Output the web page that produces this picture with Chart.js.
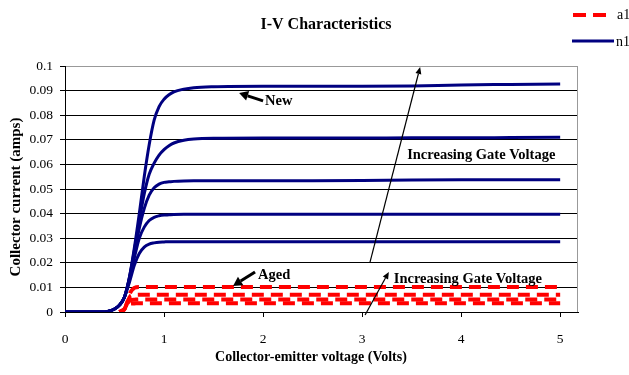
<!DOCTYPE html>
<html>
<head>
<meta charset="utf-8">
<title>I-V Characteristics</title>
<script src="https://cdn.jsdelivr.net/npm/chart.js@4/dist/chart.umd.min.js"></script>
<style>
  html, body { margin: 0; padding: 0; background: #fff; }
  #wrap { width: 629px; height: 375px; }
</style>
</head>
<body>
<div id="wrap"><canvas id="chart" width="629" height="375"></canvas></div>
<script>
/* I-V Characteristics — new (n1) vs aged (a1) device */

// voltage samples (Volts)
const vNew = [0, 0.4, 0.45, 0.5, 0.55, 0.6, 0.65, 0.7, 0.75, 0.8, 0.85, 0.9, 0.95, 1.0, 1.05, 1.1, 1.2, 1.3, 1.5, 2, 2.5, 3, 3.5, 4, 4.5, 5];
const vAged = [0.55, 0.6, 0.63, 0.66, 0.7, 0.75, 1, 2, 3, 4, 5];

// collector current (amps), new device, one array per gate voltage
const new1 = [0, 0, 0.0004, 0.0012, 0.0028, 0.006, 0.014, 0.026, 0.040, 0.055, 0.068, 0.078, 0.0835, 0.0865, 0.0883, 0.0895, 0.0906, 0.0912, 0.0916, 0.0918, 0.0918, 0.0918, 0.0919, 0.0923, 0.0925, 0.0927];
const new2 = [0, 0, 0.0004, 0.0012, 0.0028, 0.006, 0.014, 0.025, 0.037, 0.048, 0.056, 0.0605, 0.0638, 0.066, 0.0676, 0.0687, 0.0698, 0.0703, 0.0706, 0.0707, 0.0707, 0.0707, 0.0708, 0.0708, 0.0709, 0.071];
const new3 = [0, 0, 0.0004, 0.0012, 0.0028, 0.006, 0.0135, 0.024, 0.034, 0.042, 0.0475, 0.0505, 0.052, 0.0527, 0.0529, 0.0531, 0.0533, 0.0534, 0.0534, 0.0534, 0.0534, 0.0535, 0.0537, 0.0538, 0.0538, 0.0538];
const new4 = [0, 0, 0.0004, 0.0012, 0.0028, 0.006, 0.0132, 0.022, 0.030, 0.0345, 0.0372, 0.0385, 0.0391, 0.0394, 0.0395, 0.0396, 0.0397, 0.0397, 0.0397, 0.0397, 0.0397, 0.0397, 0.0397, 0.0397, 0.0397, 0.0397];
const new5 = [0, 0, 0.0004, 0.0012, 0.0028, 0.006, 0.012, 0.019, 0.0238, 0.0264, 0.0276, 0.0281, 0.0284, 0.0285, 0.0286, 0.0286, 0.0286, 0.0286, 0.0286, 0.0286, 0.0286, 0.0286, 0.0286, 0.0286, 0.0286, 0.0286];

// collector current (amps), aged device
const aged1 = [0, 0.0012, 0.004, 0.008, 0.0098, 0.0102, 0.0102, 0.0102, 0.0102, 0.0102, 0.0102];
const aged2 = [0, 0.0012, 0.004, 0.0065, 0.0069, 0.007, 0.007, 0.007, 0.007, 0.007, 0.007];
const aged3 = [0, 0.0012, 0.0035, 0.0048, 0.005, 0.0051, 0.0051, 0.0051, 0.0051, 0.0051, 0.0051];
const aged4 = [0, 0.0012, 0.003, 0.0034, 0.0035, 0.0036, 0.0036, 0.0036, 0.0036, 0.0036, 0.0036];

// tick labels
const xTicks = [0, 1, 2, 3, 4, 5];
const yTicks = [0, 0.01, 0.02, 0.03, 0.04, 0.05, 0.06, 0.07, 0.08, 0.09, 0.1];

const SERIF = "'Liberation Serif', 'Times New Roman', 'DejaVu Serif', serif";
const NAVY = '#000080';
const RED = '#ff0000';
const DASH = [12, 7];

const pts = (xs, ys) => xs.map((x, i) => ({ x: x, y: ys[i] }));

const newSets = [new1, new2, new3, new4, new5].map(ys => ({
    label: 'n1',
    data: pts(vNew, ys),
    borderColor: NAVY,
    borderWidth: 3,
    pointRadius: 0,
    cubicInterpolationMode: 'monotone',
    fill: false
}));

const agedSets = [aged1, aged2, aged3, aged4].map(ys => ({
    label: 'a1',
    data: pts(vAged, ys),
    borderColor: RED,
    borderWidth: 4,
    borderDash: DASH,
    borderCapStyle: 'butt',
    pointRadius: 0,
    cubicInterpolationMode: 'monotone',
    fill: false
}));

// annotation text/arrows, in data units
const notes = [
    { text: 'New', x: 2.02, y: 0.0858 },
    { text: 'Aged', x: 1.95, y: 0.0150 },
    { text: 'Increasing Gate Voltage', x: 3.455, y: 0.0638 },
    { text: 'Increasing Gate Voltage', x: 3.32, y: 0.0134 }
];
const arrows = [
    { from: [2.0, 0.0858], to: [1.758, 0.0890], thick: true },
    { from: [1.919, 0.0163], to: [1.697, 0.0106], thick: true },
    { from: [3.08, 0.0203], to: [3.586, 0.0996], thick: false },
    { from: [3.03, -0.0012], to: [3.27, 0.0163], thick: false }
];

function drawArrow(ctx, x1, y1, x2, y2, thick) {
    const ang = Math.atan2(y2 - y1, x2 - x1);
    const head = thick ? 9 : 7;
    const half = thick ? 5 : 3;
    const bx = x2 - head * Math.cos(ang);
    const by = y2 - head * Math.sin(ang);
    ctx.save();
    ctx.strokeStyle = '#000';
    ctx.fillStyle = '#000';
    ctx.lineWidth = thick ? 3 : 1.2;
    ctx.beginPath();
    ctx.moveTo(x1, y1);
    ctx.lineTo(bx, by);
    ctx.stroke();
    ctx.beginPath();
    ctx.moveTo(x2, y2);
    ctx.lineTo(bx + half * Math.sin(ang), by - half * Math.cos(ang));
    ctx.lineTo(bx - half * Math.sin(ang), by + half * Math.cos(ang));
    ctx.closePath();
    ctx.fill();
    ctx.restore();
}

// line up the dashes of the aged curves on their flat part
const dashAlign = {
    id: 'dashAlign',
    beforeDatasetDraw(chart, args) {
        const ds = chart.data.datasets[args.index];
        if (!ds.borderDash) return;
        const el = args.meta.dataset;
        const p = args.meta.data;
        let len = 0;
        for (let i = 1; i < p.length && vAged[i] <= 0.75; i++) {
            len += Math.hypot(p[i].x - p[i - 1].x, p[i].y - p[i - 1].y);
        }
        const period = DASH[0] + DASH[1];
        el.options.borderDashOffset = len % period;
    }
};

const decorations = {
    id: 'decorations',
    afterDraw(chart) {
        const ctx = chart.ctx;
        const xs = chart.scales.x, ys = chart.scales.y;
        const area = chart.chartArea;

        // right plot border
        ctx.save();
        ctx.strokeStyle = '#999';
        ctx.lineWidth = 1;
        ctx.beginPath();
        ctx.moveTo(area.right - 0.5, area.top);
        ctx.lineTo(area.right - 0.5, area.bottom);
        ctx.stroke();

        // title
        ctx.fillStyle = '#000';
        ctx.font = 'bold 16px ' + SERIF;
        ctx.textAlign = 'center';
        ctx.textBaseline = 'middle';
        ctx.fillText('I-V Characteristics', 326, 25);

        // axis titles
        ctx.font = 'bold 14px ' + SERIF;
        ctx.fillText('Collector-emitter voltage (Volts)', 311, 357);
        ctx.save();
        ctx.translate(16, 197);
        ctx.rotate(-Math.PI / 2);
        ctx.font = 'bold 15px ' + SERIF;
        ctx.fillText('Collector current (amps)', 0, 0);
        ctx.restore();

        // legend
        ctx.lineWidth = 4;
        ctx.strokeStyle = RED;
        ctx.setLineDash([13, 7]);
        ctx.beginPath();
        ctx.moveTo(573, 15);
        ctx.lineTo(613, 15);
        ctx.stroke();
        ctx.setLineDash([]);
        ctx.lineWidth = 3;
        ctx.strokeStyle = NAVY;
        ctx.beginPath();
        ctx.moveTo(572, 41);
        ctx.lineTo(614, 41);
        ctx.stroke();
        ctx.font = '14px ' + SERIF;
        ctx.textAlign = 'left';
        ctx.fillText('a1', 617, 15);
        ctx.fillText('n1', 616, 42);

        // notes
        ctx.font = 'bold 14.5px ' + SERIF;
        notes.forEach(n => {
            ctx.fillText(n.text, xs.getPixelForValue(n.x), ys.getPixelForValue(n.y));
        });
        ctx.restore();

        arrows.forEach(a => {
            drawArrow(ctx,
                xs.getPixelForValue(a.from[0]), ys.getPixelForValue(a.from[1]),
                xs.getPixelForValue(a.to[0]), ys.getPixelForValue(a.to[1]),
                a.thick);
        });
    }
};

new Chart(document.getElementById('chart'), {
    type: 'line',
    data: { datasets: newSets.concat(agedSets) },
    options: {
        responsive: false,
        animation: false,
        layout: { padding: { top: 66, right: 51, left: 0, bottom: 0 } },
        plugins: {
            legend: { display: false },
            title: { display: false },
            tooltip: { enabled: false }
        },
        scales: {
            x: {
                type: 'linear',
                min: 0,
                max: 5.18,
                afterBuildTicks: s => { s.ticks = xTicks.map(v => ({ value: v })); },
                afterFit: s => { s.height = 63; },
                grid: {
                    drawOnChartArea: false,
                    drawTicks: true,
                    tickLength: 5,
                    tickColor: '#000'
                },
                border: { color: '#000', width: 1 },
                ticks: {
                    color: '#000',
                    font: { family: SERIF, size: 13.5 },
                    padding: 14,
                    maxRotation: 0,
                    callback: v => String(v)
                },
                title: { display: false }
            },
            y: {
                type: 'linear',
                min: 0,
                max: 0.1,
                afterBuildTicks: s => { s.ticks = yTicks.map(v => ({ value: v })); },
                afterFit: s => { s.width = 65; },
                grid: {
                    color: c => (c.tick && c.tick.value >= 0.1 ? '#999' : '#000'),
                    lineWidth: 1,
                    tickLength: 5,
                    tickColor: '#000'
                },
                border: { color: '#000', width: 1 },
                ticks: {
                    color: '#000',
                    font: { family: SERIF, size: 13.5 },
                    padding: 7,
                    callback: v => String(v)
                },
                title: { display: false }
            }
        }
    },
    plugins: [dashAlign, decorations]
});
</script>
</body>
</html>
